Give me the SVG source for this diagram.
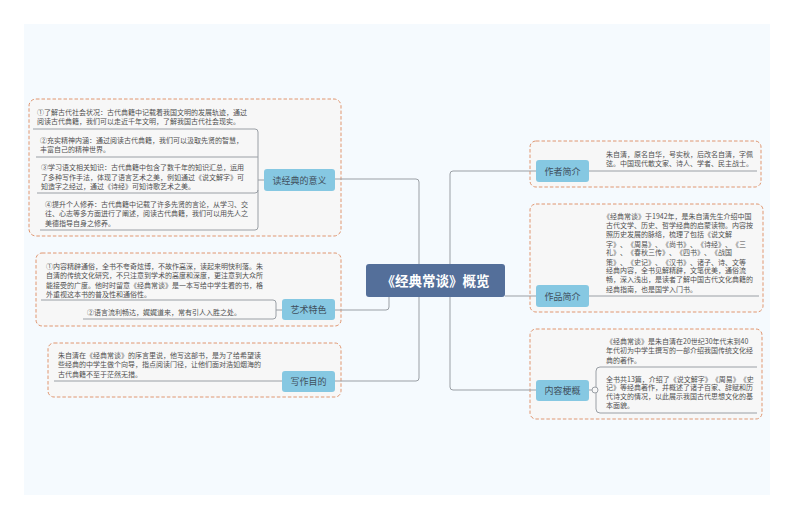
<svg xmlns="http://www.w3.org/2000/svg" width="794" height="519" viewBox="0 0 794 519">
<style>
text{font-family:"Noto Sans CJK SC","Liberation Sans",sans-serif;text-spacing-trim:space-all;font-kerning:none}
.d{font-size:7px;fill:#505050}
.b{fill:#f7f7f7;stroke:#e09670;stroke-width:1;stroke-dasharray:3.5 2}
.n{fill:#86c8e2}
.l{font-size:9px;fill:#3f4f5c;text-anchor:middle}
.c{fill:none;stroke:#9a9fa5;stroke-width:1}
</style>
<rect width="794" height="519" fill="#ffffff"/>
<rect x="24" y="24" width="746" height="471" fill="#f5fafe"/>
<g id="boxes">
<rect class="b" x="29" y="99" width="312" height="137" rx="7"/>
<rect class="b" x="36" y="253" width="305" height="73" rx="6"/>
<rect class="b" x="48" y="343" width="293" height="54" rx="6"/>
<rect class="b" x="530" y="141" width="231" height="46" rx="6"/>
<rect class="b" x="530" y="204" width="233" height="108" rx="6"/>
<rect class="b" x="530" y="329" width="232" height="90" rx="6"/>
</g>
<g id="connectors" class="c">
<path d="M419 264V182a3 3 0 0 0-3-3H335"/>
<path d="M419 297V378a3 3 0 0 1-3 3H335"/>
<path d="M389 297V307a3 3 0 0 1-3 3H335"/>
<path d="M450 264V174a3 3 0 0 1 3-3H536"/>
<path d="M505 296H536"/>
<path d="M450 297V387a3 3 0 0 0 3 3H536"/>
<path d="M33 129H255a3 3 0 0 1 3 3V227a3 3 0 0 1-3 3H40"/>
<path d="M36 157H258"/>
<path d="M37 193H255a3 3 0 0 0 3-3"/>
<path d="M258 180H264"/>
<path d="M41 300H273a3 3 0 0 1 3 3V316a3 3 0 0 1-3 3H83"/>
<path d="M276 310H282"/>
<path d="M54 381H282"/>
<path d="M589 171H757"/>
<path d="M589 296H759"/>
<path d="M757 367H600a4 4 0 0 0-4 4V409a4 4 0 0 0 4 4H757"/>
<path d="M589 390H592"/>
<circle cx="595" cy="390" r="3" fill="#f7f7f7"/>
</g>
<g id="central">
<rect x="366" y="264" width="139" height="33" rx="3" fill="#546f9a"/>
<text x="435.500" y="285.500" font-size="13.500" font-weight="700" fill="#ffffff" text-anchor="middle">《经典常谈》概览</text>
</g>
<g id="node-yiyi">
<rect class="n" x="264" y="169" width="71" height="22" rx="3"/>
<text class="l" x="299.500" y="183.500">读经典的意义</text>
</g>
<g id="yiyi-1"><text class="d"><tspan x="37" y="114.500">①了解古代社会状况：古代典籍中记载着我国文明的发展轨迹，通过</tspan><tspan x="37" y="124">阅读古代典籍，我们可以走近千年文明，了解我国古代社会现实。</tspan></text></g>
<g id="yiyi-2"><text class="d"><tspan x="40" y="142.500">②充实精神内涵：通过阅读古代典籍，我们可以汲取先贤的智慧，</tspan><tspan x="40" y="152">丰富自己的精神世界。</tspan></text></g>
<g id="yiyi-3"><text class="d"><tspan x="41" y="170">③学习语文相关知识：古代典籍中包含了数千年的知识汇总，运用</tspan><tspan x="41" y="179.500">了多种写作手法，体现了语言艺术之美，例如通过《说文解字》可</tspan><tspan x="41" y="188.800">知造字之经过，通过《诗经》可知诗歌艺术之美。</tspan></text></g>
<g id="yiyi-4"><text class="d"><tspan x="45" y="206.500">④提升个人修养：古代典籍中记载了许多先贤的言论，从学习、交</tspan><tspan x="45" y="216">往、心志等多方面进行了阐述，阅读古代典籍，我们可以用先人之</tspan><tspan x="45" y="225.500">美德指导自身之修养。</tspan></text></g>
<g id="node-art">
<rect class="n" x="282" y="299" width="53" height="21" rx="3"/>
<text class="l" x="308.500" y="313">艺术特色</text>
</g>
<g id="art-1"><text class="d"><tspan x="46" y="268.500">①内容精辟通俗，全书不夸奇炫博，不故作高深，读起来明快利落。朱</tspan><tspan x="46" y="278">自清的传统文化研究，不只注意到学术的高度和深度，更注意到大众所</tspan><tspan x="46" y="287.500">能接受的广度。他时时留意《经典常谈》是一本写给中学生看的书，格</tspan><tspan x="46" y="296.500">外重视这本书的普及性和通俗性。</tspan></text></g>
<g id="art-2"><text class="d" x="87" y="314.500">②语言流利畅达，娓娓道来，常有引人入胜之处。</text></g>
<g id="node-goal">
<rect class="n" x="282" y="371" width="53" height="21" rx="3"/>
<text class="l" x="308.500" y="385">写作目的</text>
</g>
<g id="goal-1"><text class="d"><tspan x="58" y="357.500">朱自清在《经典常谈》的序言里说，他写这部书，是为了给希望读</tspan><tspan x="58" y="367">些经典的中学生做个向导，指点阅读门径，让他们面对浩如烟海的</tspan><tspan x="58" y="376.500">古代典籍不至于茫然无措。</tspan></text></g>
<g id="node-author">
<rect class="n" x="536" y="160" width="53" height="22" rx="3"/>
<text class="l" x="562.500" y="174.500">作者简介</text>
</g>
<g id="author-1"><text class="d"><tspan x="606" y="156.500">朱自清，原名自华，号实秋，后改名自清，字佩</tspan><tspan x="606" y="166">弦。中国现代散文家、诗人、学者、民主战士。</tspan></text></g>
<g id="node-work">
<rect class="n" x="536" y="285" width="53" height="22" rx="3"/>
<text class="l" x="562.500" y="299.500">作品简介</text>
</g>
<g id="work-1"><text class="d"><tspan x="603" y="218.500">《经典常谈》于1942年，是朱自清先生介绍中国</tspan><tspan x="606" y="228">古代文学、历史、哲学经典的启蒙读物。内容按</tspan><tspan x="606" y="237">照历史发展的脉络，梳理了包括《说文解</tspan><tspan x="606" y="246.500">字》、《周易》、《尚书》、《诗经》、《三</tspan><tspan x="606" y="255">礼》、《春秋三传》、《四书》、《战国</tspan><tspan x="606" y="264.500">策》、《史记》、《汉书》、诸子、诗、文等</tspan><tspan x="606" y="273">经典内容，全书见解精辟，文笔优美，通俗流</tspan><tspan x="606" y="282">畅，深入浅出，是读者了解中国古代文化典籍的</tspan><tspan x="606" y="291.500">经典指南，也是国学入门书。</tspan></text></g>
<g id="node-summary">
<rect class="n" x="536" y="380" width="53" height="21" rx="3"/>
<text class="l" x="562.500" y="394">内容梗概</text>
</g>
<g id="summary-1"><text class="d"><tspan x="606" y="343.500">《经典常谈》是朱自清在20世纪30年代末到40</tspan><tspan x="606" y="353">年代初为中学生撰写的一部介绍我国传统文化经</tspan><tspan x="606" y="362.500">典的著作。</tspan></text></g>
<g id="summary-2"><text class="d"><tspan x="606" y="381.500">全书共13篇，介绍了《说文解字》《周易》《史</tspan><tspan x="606" y="390">记》等经典著作，并概述了诸子百家、辞赋和历</tspan><tspan x="606" y="398.500">代诗文的情况，以此展示我国古代思想文化的基</tspan><tspan x="606" y="407.500">本面貌。</tspan></text></g>
</svg>
